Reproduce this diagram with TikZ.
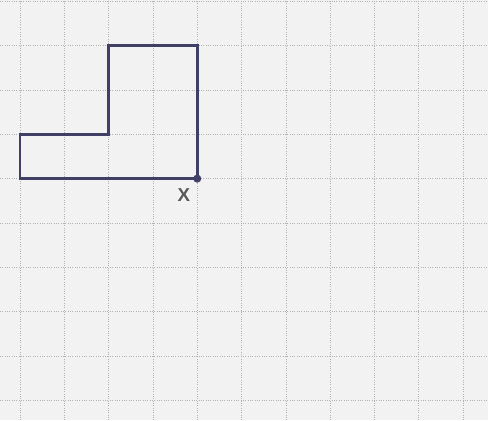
\documentclass[tikz,border=0pt]{standalone}
\usepackage{fontspec}
\setmainfont{Liberation Sans}
\usetikzlibrary{calc,positioning}

\begin{document}
\begin{tikzpicture}[
	%	style def
    grid line/.style={gray!60, line width=0.5pt, densely dotted},
    important line/.style={color=black!70!blue!50!gray, line width=1.8pt, line join=miter},
    every node/.style={color=black!65}
    ]

	% paper
	\fill[black!5] (-0.45,-0.45) rectangle (10.56,9.03);
	\useasboundingbox (-0.45,-0.45) rectangle (10.56,9.03);

	% squared grid
	\foreach \i in {0,...,10}
		\draw[grid line] (\i,-0.45) -- (\i,9.03);
	\foreach \j in {0,...,9}
		\draw[grid line] (-0.45,\j) -- (10.56,\j);

	% L shape
	\draw[important line] (0,5) coordinate (A) -- (0,6) coordinate (B) -- (2,6) coordinate (C) -- (2,8) coordinate (D) -- (4,8) coordinate (E) -- (4,5) coordinate (X) -- cycle;
	\fill[black!70!blue!50!gray] (X) circle (2.6pt);

	% marked corner
	\node[below left=3pt and 1pt of X, font=\large\bfseries] (xlabel) {X};
\end{tikzpicture}
\end{document}
